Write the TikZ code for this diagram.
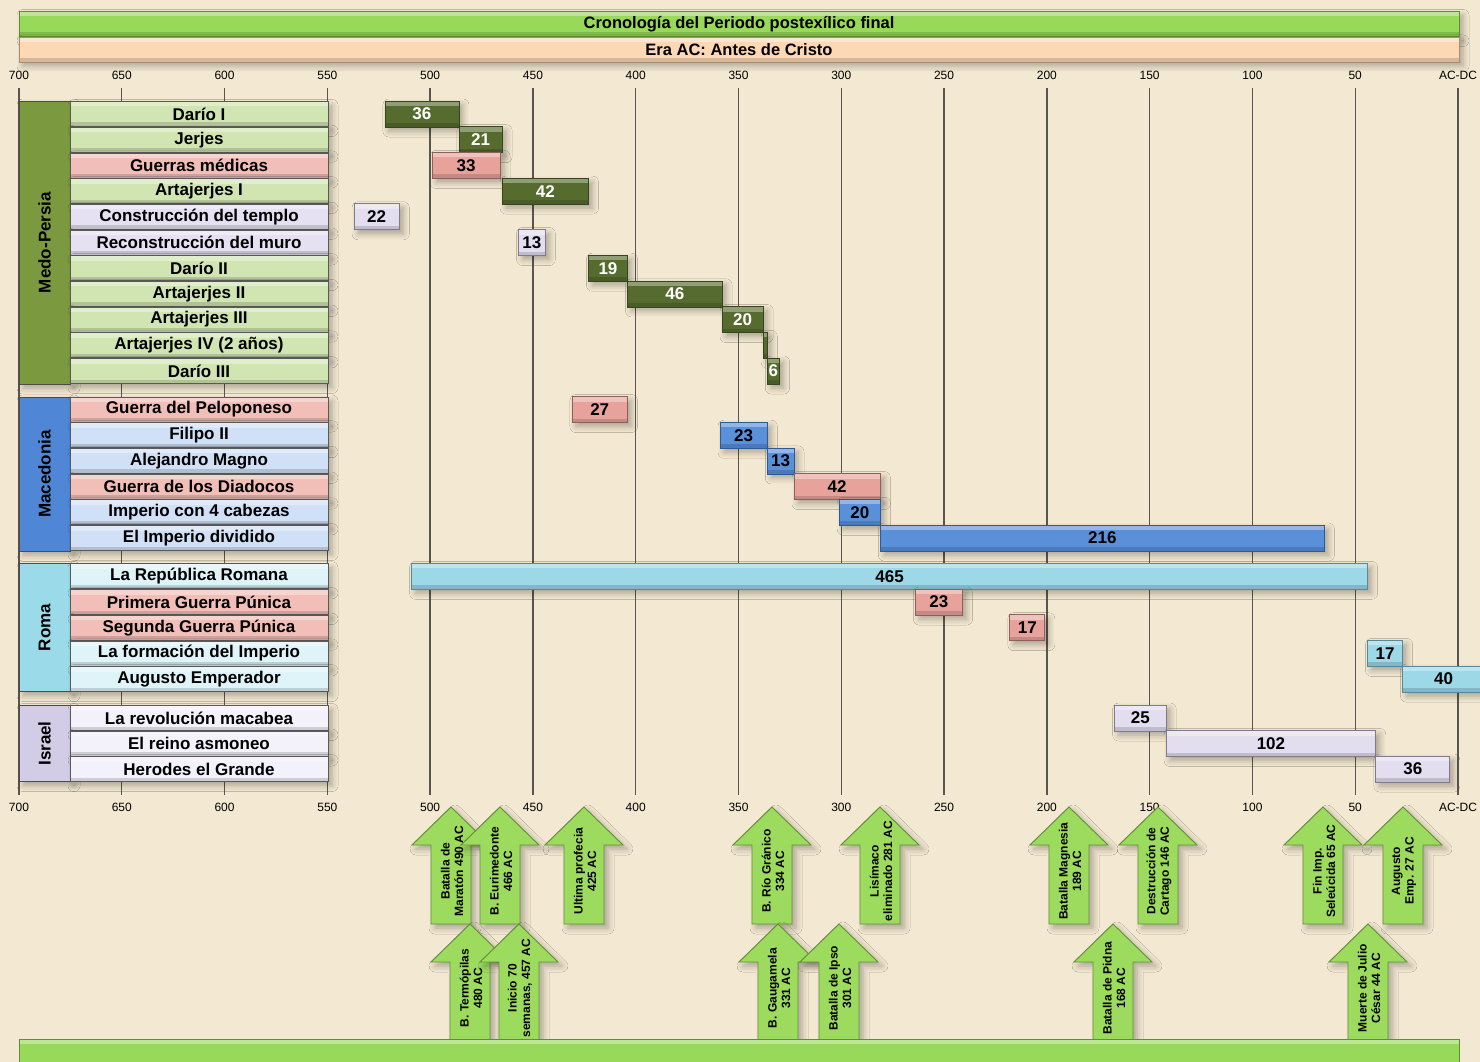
\documentclass[tikz,border=0pt]{standalone}
\usepackage{fontspec}
\setmainfont{Liberation Sans}
\usetikzlibrary{shadows.blur}
\definecolor{bg}{HTML}{F3E8D1}
\definecolor{gridc}{HTML}{5A5550}
\definecolor{titleg}{HTML}{98D95A}
\definecolor{titlegd}{HTML}{5E8F35}
\definecolor{peach}{HTML}{FDD8B5}
\definecolor{peachd}{HTML}{A88C70}
\definecolor{dkg}{HTML}{566B2E}
\definecolor{dkgd}{HTML}{37461C}
\definecolor{labg}{HTML}{D1E5B2}
\definecolor{labp}{HTML}{F2BEB8}
\definecolor{barp}{HTML}{E8A29C}
\definecolor{pinkd}{HTML}{8E605C}
\definecolor{labl}{HTML}{E5E1F2}
\definecolor{barl}{HTML}{E2DDEF}
\definecolor{lavd}{HTML}{7E7B8C}
\definecolor{labb}{HTML}{D0E0F6}
\definecolor{barb}{HTML}{5A8FDA}
\definecolor{blued}{HTML}{2F5A96}
\definecolor{labc}{HTML}{DFF4F8}
\definecolor{barc}{HTML}{9CD8E6}
\definecolor{cyand}{HTML}{56899A}
\definecolor{labi}{HTML}{F3F1FA}
\definecolor{gmp}{HTML}{7B9A40}
\definecolor{gmac}{HTML}{4F86D5}
\definecolor{groma}{HTML}{9BDAE8}
\definecolor{gisr}{HTML}{D3CCE6}
\definecolor{arrg}{HTML}{9DDB5F}
\definecolor{arrgd}{HTML}{628F38}
\newcommand{\rowlab}[4]{\node[lab,#2] (#1) at (199,#3) {#4};}
\newcommand{\tbar}[6]{\node[tbarst,#2,minimum width={(#3-(#4))*2.0557pt}] (#1) at ({19+(700-(#3+(#4))/2)*2.0557},#5) {#6};}
\newcommand{\evarrow}[4]{%
  \draw[evarr] (#2,#3) -- ++(39,38) -- ++(-19,0) -- ++(0,79) -- ++(-40,0) -- ++(0,-79) -- ++(-19,0) -- cycle;
  \node[evtext] (#1) at (#2+1,#3+64) {#4};}
\begin{document}
\begin{tikzpicture}[x=1pt,y=-1pt,
  softshadow/.style={blur shadow={shadow xshift=4pt,shadow yshift=-4pt,shadow blur radius=6pt,shadow opacity=30,shadow blur steps=6}},
  bevel/.style={path picture={
     \fill[white,opacity=.35] (path picture bounding box.north west) rectangle ([yshift=-5pt]path picture bounding box.north east);
     \fill[black,opacity=.15] (path picture bounding box.south west) rectangle ([yshift=4pt]path picture bounding box.south east);}},
  gridl/.style={draw=gridc,line width=1.3pt},
  axl/.style={font=\fontsize{12}{12}\selectfont,inner sep=0pt,text=black},
  lab/.style={draw=gray!70!black,line width=.8pt,minimum width=258pt,minimum height=25pt,inner sep=0pt,bevel,softshadow,font=\bfseries\fontsize{17}{17}\selectfont},
  lg/.style={fill=labg},
  lp/.style={fill=labp},
  ll/.style={fill=labl},
  lb/.style={fill=labb},
  lc/.style={fill=labc},
  li/.style={fill=labi},
  grp/.style={draw=gray!60!black,line width=.8pt,rotate=90,inner sep=0pt,minimum height=51pt,bevel,softshadow,font=\bfseries\fontsize{17}{17}\selectfont},
  tbarst/.style={line width=.8pt,minimum height=26pt,inner sep=0pt,bevel,softshadow,font=\bfseries\fontsize{17}{17}\selectfont},
  bdk/.style={fill=dkg,draw=dkgd,text=white},
  bp/.style={fill=barp,draw=pinkd},
  bl/.style={fill=barl,draw=lavd},
  bb/.style={fill=barb,draw=blued},
  bc/.style={fill=barc,draw=cyand},
  evarr/.style={fill=arrg,draw=arrgd,line width=.9pt,line join=miter,softshadow},
  evtext/.style={rotate=90,align=center,inner sep=0pt,font=\bfseries\fontsize{12}{13.5}\selectfont},
  hbar/.style={line width=.9pt,bevel,softshadow,inner sep=0pt,font=\bfseries\fontsize{16.5}{16.5}\selectfont}
]
\useasboundingbox (0,0) rectangle (1480,1062);
\clip (0,0) rectangle (1480,1062);
\fill[bg] (0,0) rectangle (1480,1062);

% grid and axis labels
\foreach \k/\t in {0/700,1/650,2/600,3/550,4/500,5/450,6/400,7/350,8/300,9/250,10/200,11/150,12/100,13/50,14/AC-DC}{
  \draw[gridl] ({19+\k*102.786},88) -- ({19+\k*102.786},795);
  \node[axl] (ta\k) at ({19+\k*102.786},75) {\t};
  \node[axl] (ba\k) at ({19+\k*102.786},807) {\t};
}

% header
\node[hbar,fill=titleg,draw=titlegd,minimum width=1440pt,minimum height=25pt] (title) at (739,24) {Cronología del Periodo postexílico final};
\node[hbar,fill=peach,draw=peachd,minimum width=1440pt,minimum height=25pt] (era) at (739,49.5) {Era AC: Antes de Cristo};

% group boxes
\node[grp,fill=gmp,minimum width=283pt] (gMP) at (44.5,242.5) {Medo-Persia};
\node[grp,fill=gmac,minimum width=154pt] (gMac) at (44.5,474) {Macedonia};
\node[grp,fill=groma,minimum width=128pt] (gRoma) at (44.5,627.5) {Roma};
\node[grp,fill=gisr,minimum width=76pt] (gIsr) at (44.5,743.5) {Israel};

% row labels
\rowlab{r01}{lg}{114}{Darío I}
\rowlab{r02}{lg}{139.7}{Jerjes}
\rowlab{r03}{lp}{165.4}{Guerras médicas}
\rowlab{r04}{lg}{191.1}{Artajerjes I}
\rowlab{r05}{ll}{216.8}{Construcción del templo}
\rowlab{r06}{ll}{242.5}{Reconstrucción del muro}
\rowlab{r07}{lg}{268.2}{Darío II}
\rowlab{r08}{lg}{293.9}{Artajerjes II}
\rowlab{r09}{lg}{319.6}{Artajerjes III}
\rowlab{r10}{lg}{345.3}{Artajerjes IV (2 años)}
\rowlab{r11}{lg}{371}{Darío III}
\rowlab{r12}{lp}{409.5}{Guerra del Peloponeso}
\rowlab{r13}{lb}{435.2}{Filipo II}
\rowlab{r14}{lb}{460.9}{Alejandro Magno}
\rowlab{r15}{lp}{486.6}{Guerra de los Diadocos}
\rowlab{r16}{lb}{512.3}{Imperio con 4 cabezas}
\rowlab{r17}{lb}{538}{El Imperio dividido}
\rowlab{r18}{lc}{576.3}{La República Romana}
\rowlab{r19}{lp}{602}{Primera Guerra Púnica}
\rowlab{r20}{lp}{627.7}{Segunda Guerra Púnica}
\rowlab{r21}{lc}{653.4}{La formación del Imperio}
\rowlab{r22}{lc}{679.1}{Augusto Emperador}
\rowlab{r23}{li}{718}{La revolución macabea}
\rowlab{r24}{li}{743.5}{El reino asmoneo}
\rowlab{r25}{li}{769}{Herodes el Grande}

% bars
\tbar{b01}{bdk}{522}{486}{114}{36}
\tbar{b02}{bdk}{486}{465}{139.7}{21}
\tbar{b03}{bp}{499}{466}{165.4}{33}
\tbar{b04}{bdk}{465}{423}{191.1}{42}
\tbar{b05}{bl}{537}{515}{216.8}{22}
\tbar{b06}{bl}{457}{444}{242.5}{13}
\tbar{b07}{bdk}{423}{404}{268.2}{19}
\tbar{b08}{bdk}{404}{358}{293.9}{46}
\tbar{b09}{bdk}{358}{338}{319.6}{20}
\tbar{b10}{bdk}{338}{336}{345.3}{}
\tbar{b11}{bdk}{336}{330}{371}{6}
\tbar{b12}{bp}{431}{404}{409.5}{27}
\tbar{b13}{bb}{359}{336}{435.2}{23}
\tbar{b14}{bb}{336}{323}{460.9}{13}
\tbar{b15}{bp}{323}{281}{486.6}{42}
\tbar{b16}{bb}{301}{281}{512.3}{20}
\tbar{b17}{bb}{281}{65}{538}{216}
\tbar{b18}{bc}{509}{44}{576.3}{465}
\tbar{b19}{bp}{264}{241}{602}{23}
\tbar{b20}{bp}{218}{201}{627.7}{17}
\tbar{b21}{bc}{44}{27}{653.4}{17}
\tbar{b22}{bc}{27}{-13}{679.1}{40}
\tbar{b23}{bl}{167}{142}{718}{25}
\tbar{b24}{bl}{142}{40}{743.5}{102}
\tbar{b25}{bl}{40}{4}{769}{36}

% event arrows, upper row
\evarrow{e01}{451}{807}{Batalla de\\Maratón 490 AC}
\evarrow{e02}{500}{807}{B. Eurimedonte\\466 AC}
\evarrow{e03}{584}{807}{Ultima profecia\\425 AC}
\evarrow{e06}{772}{807}{B. Río Gránico\\334 AC}
\evarrow{e07}{880}{807}{Lisímaco\\eliminado 281 AC}
\evarrow{e10}{1069}{807}{Batalla Magnesia\\189 AC}
\evarrow{e11}{1158}{807}{Destrucción de\\Cartago 146 AC}
\evarrow{e12}{1323}{807}{Fin Imp.\\Seleúcida 65 AC}
\evarrow{e13}{1403}{807}{Augusto\\Emp. 27 AC}
% lower row
\evarrow{e04}{470}{924}{B. Termópilas\\480 AC}
\evarrow{e05}{519}{924}{Inicio 70\\semanas, 457 AC}
\evarrow{e08}{778}{924}{B. Gaugamela\\331 AC}
\evarrow{e09}{839}{924}{Batalla de Ipso\\301 AC}
\evarrow{e14}{1113}{924}{Batalla de Pidna\\168 AC}
\evarrow{e15}{1368}{924}{Muerte de Julio\\César 44 AC}

% bottom bar
\draw[fill=titleg,draw=titlegd,line width=.9pt,bevel] (19,1039) rectangle (1459,1075);
\end{tikzpicture}
\end{document}
